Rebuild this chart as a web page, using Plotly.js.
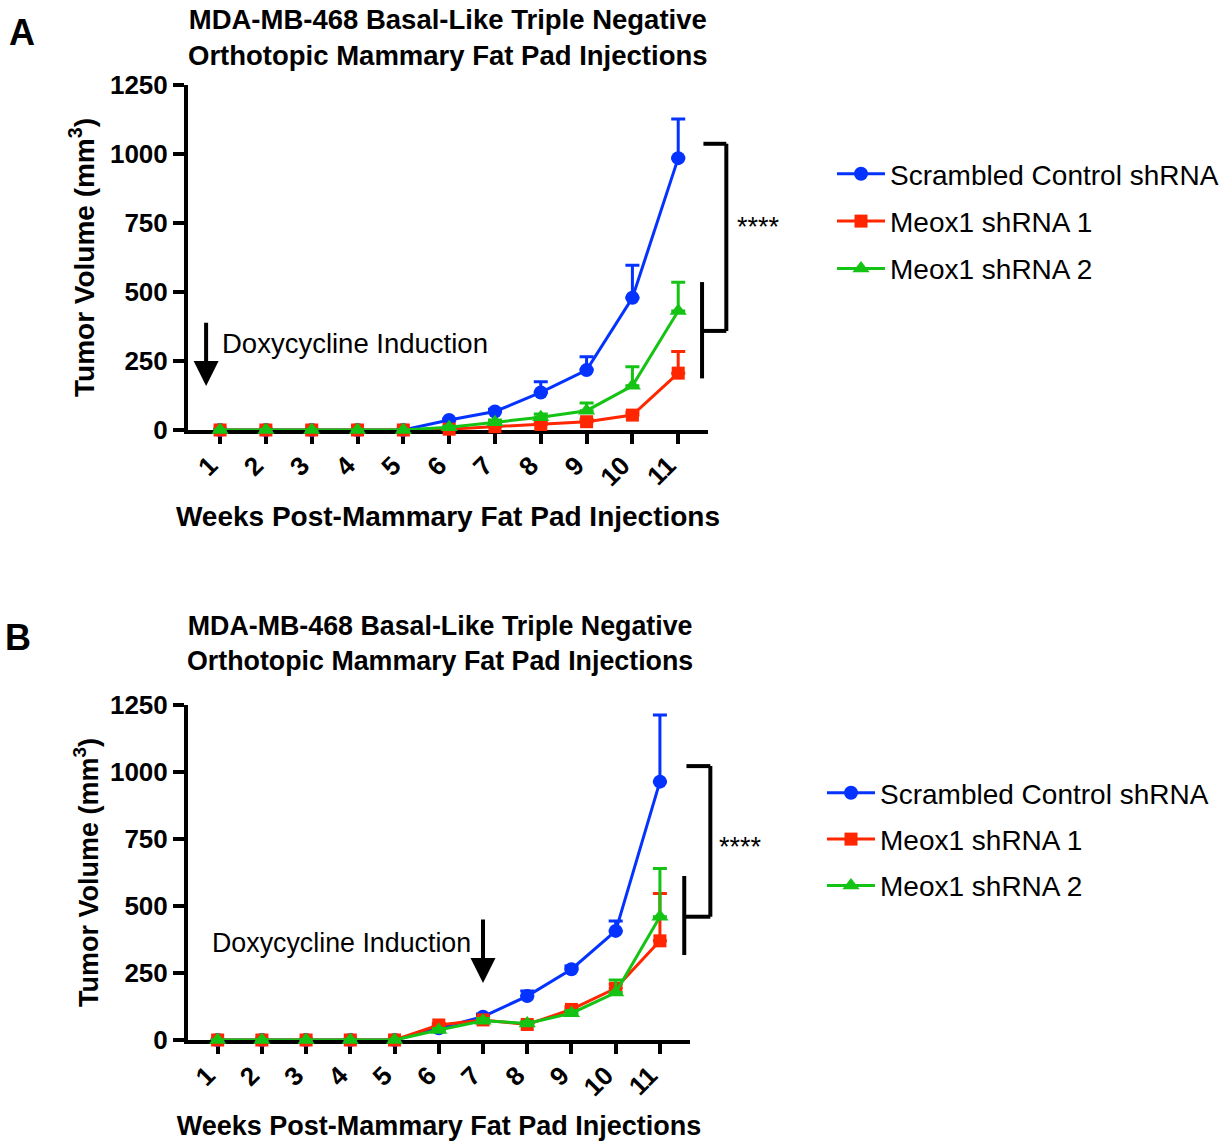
<!DOCTYPE html>
<html>
<head>
<meta charset="utf-8">
<script src="https://cdn.plot.ly/plotly-3.0.1.min.js"></script>
<style>html,body{margin:0;padding:0;background:#fff;}#chart{width:1229px;height:1141px;}</style>
</head>
<body>
<div id="chart"></div>
<script>
// ---------- data ----------
const weeks = [1,2,3,4,5,6,7,8,9,10,11];
const weekLabels = ["1","2","3","4","5","6","7","8","9","10","11"];
const yTicks = [0,250,500,750,1000,1250];
const seriesNames = ["Scrambled Control shRNA","Meox1 shRNA 1","Meox1 shRNA 2"];

// Panel A
const scrambledA    = [0,0,0,0,0,36,67,136,217,479,985];
const scrambledAErr = [0,0,0,0,0,4,8,39,48,118,142];
const meox1A        = [0,0,0,0,0,3,12,20,30,54,206];
const meox1AErr     = [0,0,0,0,0,2,4,6,8,10,78];
const meox2A        = [0,0,0,0,0,10,28,46,70,160,431];
const meox2AErr     = [0,0,0,0,0,4,8,12,28,69,104];

// Panel B
const scrambledB    = [0,0,0,0,0,44,87,164,264,407,964];
const scrambledBErr = [0,0,0,0,0,5,10,19,12,37,249];
const meox1B        = [0,0,0,0,0,56,75,58,114,193,370];
const meox1BErr     = [0,0,0,0,0,6,8,6,10,15,177];
const meox2B        = [0,0,0,0,0,37,72,62,100,177,460];
const meox2BErr     = [0,0,0,0,0,6,8,6,10,47,180];

// ---------- styling ----------
const W = 1229, H = 1141;
const FONT = "Liberation Sans, Arial, Helvetica, sans-serif";
const BLUE = "#0433FF", RED = "#FF2600", GREEN = "#14C314";
const px = x => x / W;
const py = y => 1 - y / H;
const zeros = weeks.map(() => 0);

const rangeXA = [0.3, 11.65], rangeXB = [0.33, 11.68], rangeY = [0, 1250];

function trace(y, err, name, color, symbol, size, xa, ya, legend) {
  return {
    x: weeks, y: y, name: name, type: "scatter", mode: "lines+markers",
    xaxis: xa, yaxis: ya, legend: legend, legendgroup: legend + name,
    cliponaxis: false,
    line: {color: color, width: 3},
    marker: {color: color, symbol: symbol, size: size},
    error_y: {type: "data", symmetric: false, array: err, arrayminus: zeros,
              color: color, thickness: 3, width: 7}
  };
}

const data = [
  trace(scrambledA, scrambledAErr, seriesNames[0], BLUE, "circle", 14, "x", "y", "legend"),
  trace(meox1A, meox1AErr, seriesNames[1], RED, "square", 13, "x", "y", "legend"),
  trace(meox2A, meox2AErr, seriesNames[2], GREEN, "triangle-up", 15, "x", "y", "legend"),
  trace(scrambledB, scrambledBErr, seriesNames[0], BLUE, "circle", 14, "x2", "y2", "legend2"),
  trace(meox1B, meox1BErr, seriesNames[1], RED, "square", 13, "x2", "y2", "legend2"),
  trace(meox2B, meox2BErr, seriesNames[2], GREEN, "triangle-up", 15, "x2", "y2", "legend2")
];

function xAxis(domain, range, anchor, titleSize) {
  return {
    domain: domain, range: range, anchor: anchor,
    tickvals: weeks, ticktext: weekLabels, tickangle: -45,
    ticks: "outside", ticklen: 10, tickwidth: 4, tickcolor: "#000",
    showline: true, linewidth: 4, linecolor: "#000",
    showgrid: false, zeroline: false, layer: "below traces",
    ticklabelshift: -10, ticklabelstandoff: -4,
    tickfont: {family: FONT, size: 26, color: "#000", weight: "bold"},
    title: {text: "Weeks Post-Mammary Fat Pad Injections", standoff: 16,
            font: {family: FONT, size: titleSize, color: "#000", weight: "bold"}}
  };
}
function yAxis(domain, anchor, standoff, titleSize) {
  return {
    domain: domain, range: rangeY, anchor: anchor,
    tickvals: yTicks, ticktext: yTicks.map(String),
    ticks: "outside", ticklen: 11, tickwidth: 4, tickcolor: "#000",
    showline: true, linewidth: 4, linecolor: "#000",
    showgrid: false, zeroline: false, layer: "below traces",
    tickfont: {family: FONT, size: 26, color: "#000", weight: "bold"},
    title: {text: "Tumor Volume (mm<sup>3</sup>)", standoff: standoff,
            font: {family: FONT, size: titleSize, color: "#000", weight: "bold"}}
  };
}

// helpers to convert data values to axis-domain fractions (for brackets and labels outside the axes)
const fx = (v, r) => (v - r[0]) / (r[1] - r[0]);
const fy = v => (v - rangeY[0]) / (rangeY[1] - rangeY[0]);

function bracket(xa, ya, r, xLeftBar, xTop, xRight, yTop, yBottom, barLow, barHigh) {
  const line = {color: "#000", width: 4};
  const xr = xa + " domain", yr = ya + " domain";
  const mk = (x0, y0, x1, y1) => ({type: "line", xref: xr, yref: yr,
    x0: fx(x0, r), x1: fx(x1, r), y0: fy(y0), y1: fy(y1), line: line});
  return [
    mk(xTop, yTop, xRight, yTop),
    mk(xRight, yTop, xRight, yBottom),
    mk(xLeftBar, yBottom, xRight, yBottom),
    mk(xLeftBar, barLow, xLeftBar, barHigh)
  ];
}

const shapes = [].concat(
  bracket("x", "y", rangeXA, 11.52, 11.55, 12.05, 1037, 359, 187, 536),
  bracket("x2", "y2", rangeXB, 11.55, 11.60, 12.14, 1022, 460, 317, 612)
);

const boldFont = (s) => ({family: FONT, size: s, color: "#000", weight: "bold"});
const regFont = (s) => ({family: FONT, size: s, color: "#000"});
const titleText = "MDA-MB-468 Basal-Like Triple Negative<br>Orthotopic Mammary Fat Pad Injections";

const annotations = [
  {text: "A", xref: "paper", yref: "paper", x: px(7), y: py(33), xanchor: "left", yanchor: "middle", showarrow: false, font: boldFont(36)},
  {text: "B", xref: "paper", yref: "paper", x: px(3), y: py(637), xanchor: "left", yanchor: "middle", showarrow: false, font: boldFont(36)},
  {text: titleText, xref: "paper", yref: "paper", x: px(448), y: py(38), xanchor: "center", yanchor: "middle", showarrow: false, font: boldFont(27.5)},
  {text: titleText, xref: "paper", yref: "paper", x: px(440), y: py(643), xanchor: "center", yanchor: "middle", showarrow: false, font: boldFont(26.8)},
  {text: "Doxycycline Induction", xref: "x", yref: "y", x: 1.0, y: 314, xanchor: "left", yanchor: "middle", showarrow: false, font: regFont(27.5)},
  {text: "Doxycycline Induction", xref: "x2", yref: "y2", x: 6.78, y: 362, xanchor: "right", yanchor: "middle", showarrow: false, font: regFont(26.8)},
  {text: "", xref: "x", yref: "y", x: 0.695, y: 159, axref: "x", ayref: "y", ax: 0.695, ay: 394,
   showarrow: true, arrowhead: 2, arrowsize: 1.25, arrowwidth: 4, arrowcolor: "#000", standoff: 0},
  {text: "", xref: "x2", yref: "y2", x: 7, y: 213, axref: "x2", ayref: "y2", ax: 7, ay: 455,
   showarrow: true, arrowhead: 2, arrowsize: 1.25, arrowwidth: 4, arrowcolor: "#000", standoff: 0},
  {text: "****", xref: "x domain", yref: "y domain", x: fx(12.24, rangeXA), y: fy(735), xanchor: "left", yanchor: "middle", showarrow: false, font: regFont(27)},
  {text: "****", xref: "x2 domain", yref: "y2 domain", x: fx(12.30, rangeXB), y: fy(722), xanchor: "left", yanchor: "middle", showarrow: false, font: regFont(27)}
];

const layout = {
  width: W, height: H,
  margin: {l: 0, r: 0, t: 0, b: 0},
  paper_bgcolor: "#fff", plot_bgcolor: "#fff",
  font: {family: FONT, color: "#000"},
  showlegend: true,
  xaxis: xAxis([px(188), px(708)], rangeXA, "y", 28),
  yaxis: yAxis([py(430), py(85)], "x", 8, 28),
  xaxis2: xAxis([px(188), px(690)], rangeXB, "y2", 27),
  yaxis2: yAxis([py(1040), py(705)], "x2", 5, 27),
  legend: {x: px(832), y: py(149), xanchor: "left", yanchor: "top", tracegroupgap: 8,
           bgcolor: "rgba(0,0,0,0)", font: regFont(28), itemwidth: 48},
  legend2: {x: px(822), y: py(768), xanchor: "left", yanchor: "top", tracegroupgap: 7,
           bgcolor: "rgba(0,0,0,0)", font: regFont(28), itemwidth: 48},
  shapes: shapes,
  annotations: annotations
};

Plotly.newPlot("chart", data, layout, {displayModeBar: false, staticPlot: true});
</script>
</body>
</html>
